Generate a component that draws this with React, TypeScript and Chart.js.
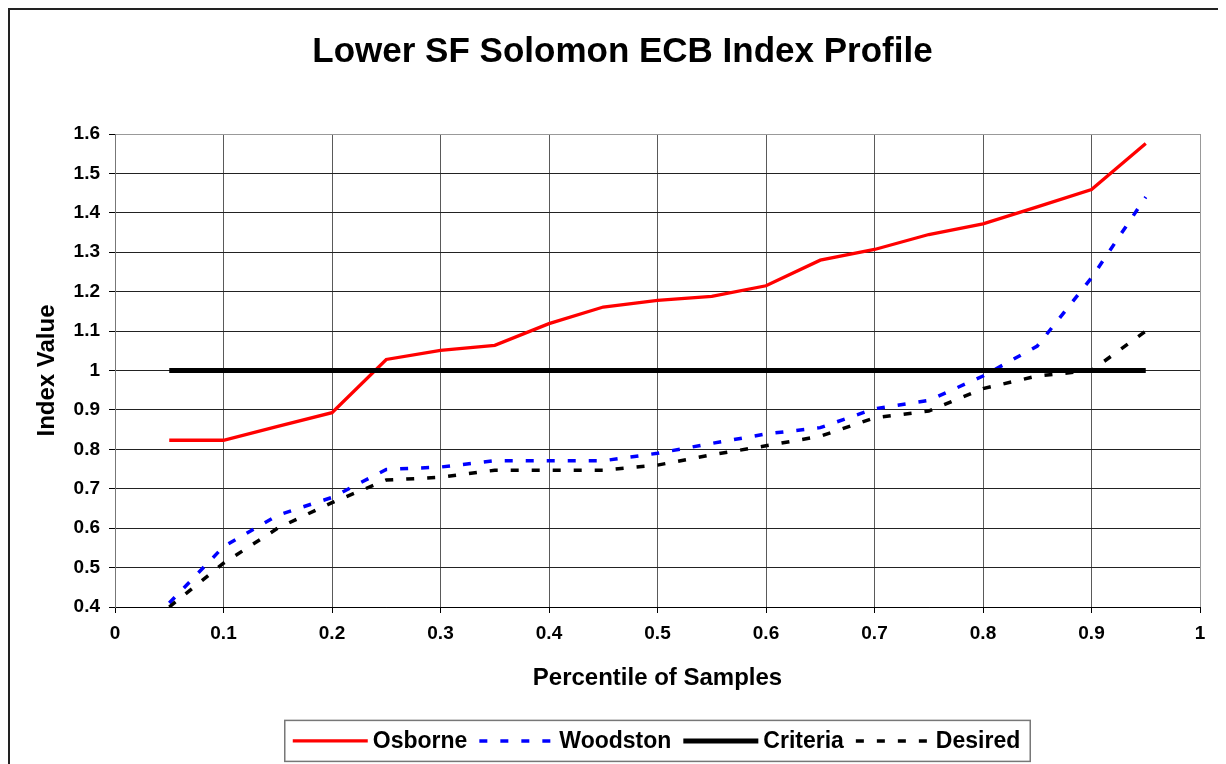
import React, { useEffect, useRef } from "react";
import { Chart, registerables } from "chart.js";

Chart.register(...registerables);

const FONT = "'Liberation Sans', Arial, Helvetica, sans-serif";

const chartTitle = "Lower SF Solomon ECB Index Profile";
const xAxisTitle = "Percentile of Samples";
const yAxisTitle = "Index Value";

const percentiles = [0.05, 0.1, 0.15, 0.2, 0.25, 0.3, 0.35, 0.4, 0.45, 0.5, 0.55, 0.6, 0.65, 0.7, 0.75, 0.8, 0.85, 0.9, 0.95];
const osborne = [0.823, 0.823, 0.858, 0.893, 1.028, 1.051, 1.064, 1.119, 1.161, 1.178, 1.188, 1.215, 1.28, 1.307, 1.345, 1.372, 1.415, 1.459, 1.576];
const woodston = [0.41, 0.553, 0.633, 0.678, 0.749, 0.755, 0.771, 0.771, 0.771, 0.79, 0.815, 0.839, 0.855, 0.903, 0.924, 0.986, 1.062, 1.235, 1.44];
const criteria = [1, 1, 1, 1, 1, 1, 1, 1, 1, 1, 1, 1, 1, 1, 1, 1, 1, 1, 1];
const desired = [0.4, 0.511, 0.6, 0.665, 0.722, 0.729, 0.747, 0.747, 0.747, 0.76, 0.786, 0.809, 0.833, 0.88, 0.897, 0.954, 0.986, 1.0, 1.1];

const seriesNames = ["Osborne", "Woodston", "Criteria", "Desired"];

const xMin = 0;
const xMax = 1;
const yMin = 0.4;
const yMax = 1.6;
const tickStep = 0.1;

const toPoints = (ys: number[]) => percentiles.map((x, i) => ({ x, y: ys[i] }));

const fmt = (v: number | string) => String(Math.round(Number(v) * 10) / 10);

const boxLegend = {
  id: "boxLegend",
  afterDraw(chart: any) {
    const ctx: CanvasRenderingContext2D = chart.ctx;
    const ds = chart.data.datasets;
    ctx.save();
    ctx.font = `bold 23px ${FONT}`;
    const sample = 75;
    const gapText = 5;
    const gapItem = 12;
    const padL = 8;
    const padR = 10;
    const widths = ds.map((d: any) => ctx.measureText(d.label).width);
    const total =
      padL + padR +
      widths.reduce((a: number, w: number) => a + sample + gapText + w, 0) +
      gapItem * (ds.length - 1);
    const ca = chart.chartArea;
    const cx = (ca.left + ca.right) / 2;
    const left = cx - total / 2;
    const top = chart.scales.x.bottom + 28;
    const h = 41;
    ctx.strokeStyle = "#777";
    ctx.lineWidth = 1.5;
    ctx.setLineDash([]);
    ctx.strokeRect(left, top, total, h);
    const cy = top + h / 2;
    let x = left + padL;
    ds.forEach((d: any, i: number) => {
      ctx.beginPath();
      ctx.setLineDash(d.borderDash || []);
      ctx.lineWidth = d.borderWidth;
      ctx.strokeStyle = d.borderColor;
      ctx.lineCap = "butt";
      ctx.moveTo(x, cy);
      ctx.lineTo(x + sample, cy);
      ctx.stroke();
      ctx.setLineDash([]);
      x += sample + gapText;
      ctx.fillStyle = "#000";
      ctx.textBaseline = "middle";
      ctx.textAlign = "left";
      ctx.fillText(d.label, x, cy + 1);
      x += widths[i] + gapItem;
    });
    ctx.restore();
  },
};

export default function App() {
  const ref = useRef<HTMLCanvasElement | null>(null);

  useEffect(() => {
    document.documentElement.style.overflow = "hidden";
    document.body.style.overflow = "hidden";
    const canvas = ref.current;
    if (!canvas) return;
    const tickFont = { family: FONT, size: 19, weight: "bold" as const };
    const titleFont = { family: FONT, size: 24, weight: "bold" as const };
    const chart = new Chart(canvas, {
      type: "line",
      data: {
        datasets: [
          {
            label: seriesNames[0],
            data: toPoints(osborne),
            borderColor: "#ff0000",
            borderWidth: 3.3,
            pointRadius: 0,
            tension: 0,
            fill: false,
            order: 3,
          },
          {
            label: seriesNames[1],
            data: toPoints(woodston),
            borderColor: "#0000ff",
            borderWidth: 3.5,
            borderDash: [8, 13],
            pointRadius: 0,
            tension: 0,
            fill: false,
            order: 2,
          },
          {
            label: seriesNames[2],
            data: toPoints(criteria),
            borderColor: "#000000",
            borderWidth: 5,
            pointRadius: 0,
            tension: 0,
            fill: false,
            order: 1,
          },
          {
            label: seriesNames[3],
            data: toPoints(desired),
            borderColor: "#000000",
            borderWidth: 3.5,
            borderDash: [8, 13],
            pointRadius: 0,
            tension: 0,
            fill: false,
            order: 0,
          },
        ],
      },
      options: {
        responsive: false,
        animation: false,
        devicePixelRatio: 1,
        layout: { padding: { left: 0, right: 0, top: 0, bottom: 71.6 } },
        plugins: {
          legend: { display: false },
          tooltip: { enabled: false },
          title: {
            display: true,
            text: chartTitle,
            color: "#000",
            font: { family: FONT, size: 35, weight: "bold" },
            padding: { top: 21, bottom: 61 },
          },
        },
        scales: {
          x: {
            type: "linear",
            min: xMin,
            max: xMax,
            ticks: {
              stepSize: tickStep,
              autoSkip: false,
              maxRotation: 0,
              color: "#000",
              font: tickFont,
              padding: 9,
              callback: (v: any) => fmt(v),
            },
            grid: {
              color: (c: any) => (c.tick && Math.abs(c.tick.value - xMax) < 1e-6 ? "#999" : "#5a5a5a"),
              lineWidth: 1,
              drawTicks: true,
              tickLength: 6,
              tickColor: "#000",
            },
            border: { display: true, color: "#000", width: 1 },
            title: {
              display: true,
              text: xAxisTitle,
              color: "#000",
              font: titleFont,
              padding: { top: 0, bottom: 0 },
            },
            afterFit: (s: any) => {
              s.height = 85.4;
            },
          },
          y: {
            type: "linear",
            position: "left",
            min: yMin,
            max: yMax,
            ticks: {
              stepSize: tickStep,
              autoSkip: false,
              color: "#000",
              font: tickFont,
              padding: 9,
              callback: (v: any) => fmt(v),
            },
            grid: {
              color: (c: any) => (c.tick && Math.abs(c.tick.value - yMax) < 1e-6 ? "#999" : "#222"),
              lineWidth: 1,
              drawTicks: true,
              tickLength: 6,
              tickColor: "#000",
            },
            border: { display: true, color: "#777", width: 1 },
            title: {
              display: true,
              text: yAxisTitle,
              color: "#000",
              font: titleFont,
              padding: { top: 22.6, bottom: 0 },
            },
            afterFit: (s: any) => {
              s.width = 105;
            },
          },
          yRightSpace: {
            type: "linear",
            position: "right",
            display: true,
            min: yMin,
            max: yMax,
            ticks: { display: false },
            grid: { display: false, drawTicks: false },
            border: { display: false },
            title: { display: false },
            afterFit: (s: any) => {
              s.width = 35;
            },
          },
        },
      },
      plugins: [boxLegend],
    } as any);
    return () => {
      chart.destroy();
    };
  }, []);

  return (
    <div
      style={{
        width: 1225,
        height: 754,
        borderLeft: "2px solid #222",
        borderTop: "2px solid #222",
        background: "#fff",
      }}
    >
      <canvas ref={ref} width={1225} height={754} style={{ display: "block", width: 1225, height: 754 }} />
    </div>
  );
}
